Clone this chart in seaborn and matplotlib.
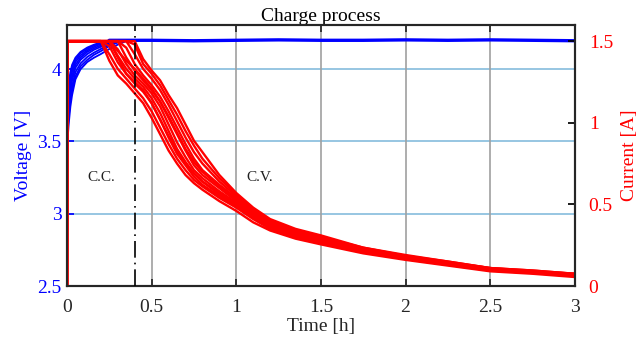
import numpy as np
import pandas as pd
import matplotlib
matplotlib.use("Agg")
import matplotlib.pyplot as plt
import seaborn as sns

# --- data ---
# current curves (A), all sampled on the same time grid (h)
T_I = [0, 0.001, 0.15, 0.2, 0.25, 0.3, 0.35, 0.4, 0.45, 0.5, 0.55, 0.6, 0.65, 0.7,
       0.75, 0.8, 0.9, 1.0, 1.1, 1.2, 1.35, 1.5, 1.75, 2.0, 2.25, 2.5, 2.75, 3.0]
i_c01 = [0, 1.5, 1.5, 1.5, 1.38, 1.29, 1.24, 1.18, 1.12, 1.03, 0.93, 0.83, 0.75, 0.68,
         0.63, 0.59, 0.52, 0.46, 0.39, 0.34, 0.29, 0.255, 0.20, 0.16, 0.125, 0.09, 0.075, 0.055]
i_c02 = [0, 1.5, 1.5, 1.5, 1.42, 1.33, 1.27, 1.21, 1.15, 1.07, 0.97, 0.87, 0.78, 0.71,
         0.65, 0.61, 0.54, 0.48, 0.41, 0.35, 0.30, 0.265, 0.21, 0.165, 0.13, 0.095, 0.08, 0.06]
i_c03 = [0, 1.5, 1.5, 1.5, 1.47, 1.37, 1.30, 1.24, 1.19, 1.12, 1.02, 0.91, 0.81, 0.74,
         0.67, 0.62, 0.55, 0.49, 0.42, 0.36, 0.305, 0.27, 0.215, 0.17, 0.135, 0.10, 0.08, 0.065]
i_c04 = [0, 1.5, 1.5, 1.5, 1.5, 1.41, 1.33, 1.27, 1.22, 1.15, 1.06, 0.95, 0.84, 0.76,
         0.69, 0.64, 0.56, 0.50, 0.43, 0.37, 0.31, 0.275, 0.22, 0.17, 0.135, 0.10, 0.085, 0.065]
i_c05 = [0, 1.5, 1.5, 1.5, 1.5, 1.45, 1.36, 1.29, 1.24, 1.18, 1.10, 0.99, 0.88, 0.79,
         0.71, 0.66, 0.58, 0.51, 0.44, 0.38, 0.32, 0.28, 0.225, 0.175, 0.14, 0.105, 0.085, 0.07]
i_c06 = [0, 1.5, 1.5, 1.5, 1.5, 1.5, 1.40, 1.32, 1.26, 1.20, 1.13, 1.03, 0.93, 0.83,
         0.74, 0.68, 0.60, 0.52, 0.45, 0.385, 0.325, 0.285, 0.225, 0.18, 0.14, 0.10, 0.09, 0.07]
i_c07 = [0, 1.5, 1.5, 1.5, 1.5, 1.5, 1.46, 1.36, 1.29, 1.23, 1.16, 1.07, 0.97, 0.87,
         0.78, 0.71, 0.62, 0.54, 0.46, 0.39, 0.33, 0.29, 0.23, 0.18, 0.145, 0.105, 0.09, 0.07]
i_c08 = [0, 1.5, 1.5, 1.5, 1.5, 1.5, 1.5, 1.42, 1.33, 1.27, 1.20, 1.11, 1.01, 0.91,
         0.82, 0.75, 0.64, 0.55, 0.47, 0.40, 0.34, 0.295, 0.23, 0.185, 0.145, 0.11, 0.09, 0.075]
i_c09 = [0, 1.5, 1.5, 1.5, 1.5, 1.5, 1.5, 1.48, 1.36, 1.30, 1.23, 1.14, 1.05, 0.95,
         0.86, 0.78, 0.66, 0.56, 0.47, 0.40, 0.345, 0.30, 0.235, 0.185, 0.15, 0.11, 0.095, 0.075]
i_c10 = [0, 1.5, 1.5, 1.5, 1.5, 1.5, 1.5, 1.5, 1.39, 1.32, 1.26, 1.17, 1.09, 0.99,
         0.89, 0.82, 0.68, 0.57, 0.48, 0.41, 0.35, 0.31, 0.235, 0.19, 0.15, 0.11, 0.095, 0.075]
i_c11 = [0, 1.5, 1.5, 1.5, 1.5, 1.40, 1.30, 1.25, 1.20, 1.12, 1.02, 0.92, 0.83, 0.75,
         0.69, 0.64, 0.57, 0.50, 0.43, 0.37, 0.315, 0.275, 0.22, 0.175, 0.14, 0.10, 0.085, 0.065]
i_c12 = [0, 1.5, 1.5, 1.5, 1.5, 1.44, 1.38, 1.33, 1.27, 1.21, 1.13, 1.04, 0.94, 0.84,
         0.76, 0.70, 0.61, 0.53, 0.45, 0.39, 0.33, 0.29, 0.23, 0.18, 0.14, 0.105, 0.09, 0.07]
CURRENT_CURVES = [i_c01, i_c02, i_c03, i_c04, i_c05, i_c06,
                  i_c07, i_c08, i_c09, i_c10, i_c11, i_c12]

# voltage rise (V) on a shared time grid (h)
T_V = [0, 0.003, 0.01, 0.02, 0.03, 0.05, 0.08, 0.12, 0.16, 0.2, 0.25, 0.3, 0.35, 0.4]
v_b1 = [3.5, 3.75, 3.9, 3.98, 4.03, 4.08, 4.12, 4.15, 4.17, 4.185, 4.2, 4.2, 4.2, 4.2]
v_b2 = [3.5, 3.72, 3.87, 3.95, 4.01, 4.065, 4.11, 4.14, 4.165, 4.18, 4.195, 4.2, 4.2, 4.2]
v_b3 = [3.49, 3.69, 3.83, 3.92, 3.98, 4.05, 4.095, 4.13, 4.155, 4.175, 4.19, 4.2, 4.2, 4.2]
v_b4 = [3.48, 3.66, 3.79, 3.88, 3.95, 4.03, 4.08, 4.12, 4.145, 4.165, 4.185, 4.2, 4.2, 4.2]
v_b5 = [3.47, 3.62, 3.75, 3.85, 3.92, 4.01, 4.065, 4.105, 4.135, 4.155, 4.18, 4.195, 4.2, 4.2]
v_b6 = [3.47, 3.58, 3.71, 3.81, 3.88, 3.98, 4.04, 4.085, 4.115, 4.14, 4.17, 4.19, 4.2, 4.2]
v_b7 = [3.46, 3.54, 3.67, 3.78, 3.85, 3.95, 4.02, 4.065, 4.1, 4.125, 4.16, 4.185, 4.2, 4.2]
v_b8 = [3.45, 3.5, 3.62, 3.74, 3.82, 3.93, 4.0, 4.05, 4.08, 4.105, 4.14, 4.17, 4.195, 4.2]
VOLTAGE_CURVES = [v_b1, v_b2, v_b3, v_b4, v_b5, v_b6, v_b7, v_b8]

# constant-voltage plateau
T_FLAT = [0.25, 0.5, 0.75, 1.0, 1.25, 1.5, 1.75, 2.0, 2.25, 2.5, 2.75, 3.0]
V_FLAT = [4.2, 4.2, 4.197, 4.2, 4.203, 4.2, 4.2, 4.203, 4.2, 4.203, 4.2, 4.197]

T_SWITCH = 0.4  # end of C.C. phase
X_TICKS = [0, 0.5, 1, 1.5, 2, 2.5, 3]
X_TICK_LABELS = ['0', '0.5', '1', '1.5', '2', '2.5', '3']
V_TICKS = [2.5, 3, 3.5, 4]
V_TICK_LABELS = ['2.5', '3', '3.5', '4']
I_TICKS = [0, 0.5, 1, 1.5]
I_TICK_LABELS = ['0', '0.5', '1', '1.5']

# --- long-form tables for seaborn ---
volt_df = pd.concat([pd.DataFrame({'t': T_V, 'v': v, 'run': k})
                     for k, v in enumerate(VOLTAGE_CURVES)], ignore_index=True)
curr_df = pd.concat([pd.DataFrame({'t': T_I, 'i': c, 'run': k})
                     for k, c in enumerate(CURRENT_CURVES)], ignore_index=True)
flat_df = pd.DataFrame({'t': T_FLAT, 'v': V_FLAT})

sns.set_theme(style='white')
plt.rcParams['font.family'] = ['Liberation Serif', 'DejaVu Serif']
plt.rcParams['mathtext.fontset'] = 'stix'

fig = plt.figure(figsize=(6.38, 3.49), dpi=100)
ax = fig.add_axes([0.105, 0.1805, 0.796, 0.7475])
ax2 = ax.twinx()

# voltage side
sns.lineplot(data=volt_df, x='t', y='v', units='run', estimator=None,
             color='#0000ff', lw=1.3, ax=ax, legend=False)
sns.lineplot(data=flat_df, x='t', y='v', color='#0000ff', lw=2.4, ax=ax, legend=False)

# current side
sns.lineplot(data=curr_df, x='t', y='i', units='run', estimator=None,
             color='#ff0000', lw=1.7, ax=ax2, legend=False)
ax2.axvline(T_SWITCH, color='black', lw=1.2, ls=(0, (10, 3, 1, 3)), zorder=5)

# grid: light blue horizontal (voltage), grey vertical (time)
for v in V_TICKS[1:]:
    ax.axhline(v, color='#8fc1df', lw=1.3, zorder=0)
for t in X_TICKS[1:-1]:
    ax.axvline(t, color='#a0a0a0', lw=1.2, zorder=0)

ax.set_xlim(0, 3)
ax.set_ylim(2.5, 4.305)
ax2.set_ylim(0, 1.598)

ax.set_xticks(X_TICKS)
ax.set_xticklabels(X_TICK_LABELS)
ax.set_yticks(V_TICKS)
ax.set_yticklabels(V_TICK_LABELS)
ax2.set_yticks(I_TICKS)
ax2.set_yticklabels(I_TICK_LABELS)

ax.tick_params(axis='x', direction='in', length=5, pad=9, labelsize=14,
               colors='#262626', top=True, bottom=True)
ax.tick_params(axis='y', direction='in', length=5, pad=4, labelsize=14,
               colors='blue', labelcolor='blue')
ax2.tick_params(axis='y', direction='in', length=5, pad=10, labelsize=14,
                color='black', labelcolor='red')

for a in (ax, ax2):
    for s in a.spines.values():
        s.set_color('#262626')
        s.set_linewidth(1.5)

ax.set_xlabel('Time [h]', fontsize=14, color='#262626', labelpad=2)
ax.set_ylabel('Voltage [V]', fontsize=14, color='blue', labelpad=4)
ax2.set_ylabel('Current [A]', fontsize=14, color='red', labelpad=6)
ax.set_title('Charge process', fontsize=14, color='black', pad=3)

ax.text(0.205, 3.25, 'C.C.', fontsize=11, ha='center', va='center', color='#202020')
ax.text(1.14, 3.25, 'C.V.', fontsize=11, ha='center', va='center', color='#202020')

fig.savefig('out.png', dpi=100)
